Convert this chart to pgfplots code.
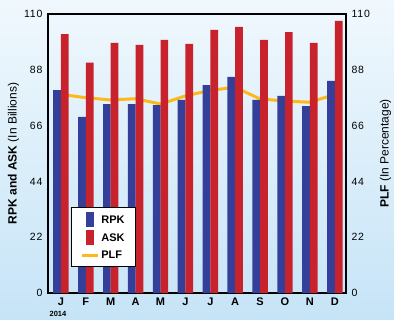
\documentclass[border=0pt]{standalone}
\usepackage{pgfplots}
\pgfplotsset{compat=1.18}
\usepackage{fontspec}
\setmainfont{Liberation Sans}
\usetikzlibrary{backgrounds,calc}
\definecolor{rpk}{RGB}{51,63,153}
\definecolor{ask}{RGB}{200,35,44}
\definecolor{plf}{RGB}{255,184,28}
\definecolor{bgtop}{RGB}{240,248,253}
\definecolor{bgbot}{RGB}{198,228,247}
\newcommand{\tickfont}{\fontsize{10.5}{12}\selectfont\addfontfeatures{LetterSpace=8}}
\begin{document}
\begin{tikzpicture}
\pgfplotsset{
  common/.style={
    scale only axis, width=298pt, height=279pt,
    xmin=-0.52, xmax=11.45, ymin=0, ymax=110,
    ytick={0,22,44,66,88,110},
    major tick length=0pt,
    axis line style={line width=1.8pt, black},
    tick label style={font=\tickfont},
    /pgf/number format/assume math mode=true,
  }
}
% PLF line (behind bars), right axis
\begin{axis}[common, name=plfax,
  axis x line=none,
  axis y line*=right,
  yticklabel style={xshift=2pt},
  ylabel={\textbf{PLF} (In Percentage)},
  ylabel style={font=\fontsize{12}{14}\selectfont, yshift=-3pt},
]
\addplot[plf, line width=3pt, line join=round, line cap=round] coordinates {
(0,78.3) (1,77.0) (2,76.1) (3,76.6) (4,74.5) (5,77.7) (6,79.9) (7,81.1) (8,76.5) (9,75.7) (10,75.2) (11,78.3)
};
\end{axis}
% Bars, left axis
\begin{axis}[common, name=main,
  ybar=0pt, bar width=0.31,
  xtick={0,...,11},
  xticklabels={J,F,M,A,M,J,J,A,S,O,N,D},
  xticklabel style={font=\fontsize{11}{13}\selectfont\bfseries, yshift=-1pt},
  yticklabel style={xshift=-2pt},
  ylabel={\textbf{RPK and ASK} (In Billions)},
  ylabel style={font=\fontsize{12}{14}\selectfont, yshift=-2pt},
  legend style={at={(0.077,0.308)}, anchor=north west, draw=black, line width=0.8pt, fill=white,
    font=\fontsize{11}{13}\selectfont\bfseries, row sep=3pt, inner xsep=9pt, inner ysep=5pt},
  legend cell align=left,
  clip=false,
]
\addplot[fill=rpk, draw=none, legend image code/.code={\fill[rpk] (4pt,-7pt) rectangle (12pt,8pt);}] coordinates {
(0,80.0) (1,69.4) (2,74.5) (3,74.5) (4,74.1) (5,76.1) (6,82.0) (7,85.2) (8,76.1) (9,77.7) (10,73.7) (11,83.6)
};
\addplot[fill=ask, draw=none, legend image code/.code={\fill[ask] (4pt,-7pt) rectangle (12pt,8pt);}] coordinates {
(0,102.1) (1,90.8) (2,98.6) (3,97.8) (4,99.8) (5,98.2) (6,103.7) (7,104.9) (8,99.8) (9,102.9) (10,98.6) (11,107.3)
};
\addlegendentry{RPK}
\addlegendentry{ASK}
\addlegendimage{legend image code/.code={\draw[plf, line width=3pt] (0pt,0pt) -- (16pt,0pt);}}
\addlegendentry{PLF}
\node[font=\fontsize{7.5}{9}\selectfont\bfseries, anchor=north, inner sep=0pt] at (axis cs:-0.12,-7.0) {2014};
\end{axis}
\begin{scope}[on background layer]
\shade[top color=bgtop, bottom color=bgbot]
  ($(main.south west)+(-48pt,-26pt)$) rectangle ($(main.north east)+(48pt,14pt)$);
\end{scope}
\pgfresetboundingbox
\path[use as bounding box] ($(main.south west)+(-48pt,-26pt)$) rectangle ($(main.north east)+(48pt,14pt)$);
\end{tikzpicture}
\end{document}
